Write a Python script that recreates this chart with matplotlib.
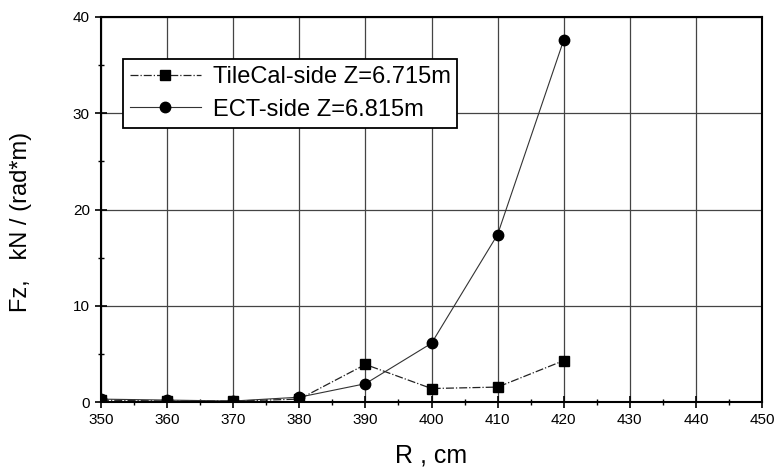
import matplotlib
matplotlib.use('Agg')
import matplotlib.pyplot as plt

# radius values (cm)
r_cm = [350, 360, 370, 380, 390, 400, 410, 420]

# Fz, kN/(rad*m)
tilecal_fz = [0.2, 0.1, 0.1, 0.3, 3.9, 1.4, 1.55, 4.3]
ect_fz = [0.3, 0.2, 0.1, 0.5, 1.9, 6.1, 17.4, 37.6]

x_ticks = [350, 360, 370, 380, 390, 400, 410, 420, 430, 440, 450]
y_ticks = [0, 10, 20, 30, 40]

plt.rcParams['font.family'] = ['Liberation Sans', 'DejaVu Sans']

fig = plt.figure(figsize=(7.76, 4.67), dpi=100)
ax = fig.add_axes([101 / 776, 1 - 402 / 467, 661 / 776, 385 / 467])

ax.plot(r_cm, tilecal_fz, linestyle='-.', color='#222222', linewidth=0.9,
        marker='s', markersize=7, markerfacecolor='black', markeredgecolor='black',
        label='TileCal-side Z=6.715m')
ax.plot(r_cm, ect_fz, linestyle='-', color='#333333', linewidth=0.8,
        marker='o', markersize=7.5, markerfacecolor='black', markeredgecolor='black',
        label='ECT-side Z=6.815m')

ax.set_xlim(350, 450)
ax.set_ylim(0, 40)
ax.set_xticks(x_ticks)
ax.set_yticks(y_ticks)
ax.set_xticks(range(355, 450, 10), minor=True)
ax.set_yticks(range(5, 40, 10), minor=True)
ax.tick_params(axis='both', which='major', direction='inout', length=8, width=1.2,
               labelsize=11, colors='black', pad=4)
ax.tick_params(axis='both', which='minor', direction='inout', length=5, width=1.0)

ax.grid(True, which='major', color='#444444', linewidth=0.9, linestyle='-')
ax.set_axisbelow(True)
for s in ax.spines.values():
    s.set_linewidth(1.5)
    s.set_color('black')

ax.set_xlabel('R , cm', fontsize=18, labelpad=12)
ax.set_ylabel('Fz,   kN / (rad*m)', fontsize=17)
ax.yaxis.set_label_coords(-0.104, 0.468)

leg = ax.legend(loc='upper left', bbox_to_anchor=(0.033, 0.891), fontsize=17,
                frameon=True, fancybox=False, edgecolor='black', framealpha=1,
                handlelength=3.0, borderpad=0.3, labelspacing=0.45,
                handletextpad=0.5, borderaxespad=0)
leg.get_frame().set_linewidth(1.3)

fig.savefig('out.png', dpi=100)
